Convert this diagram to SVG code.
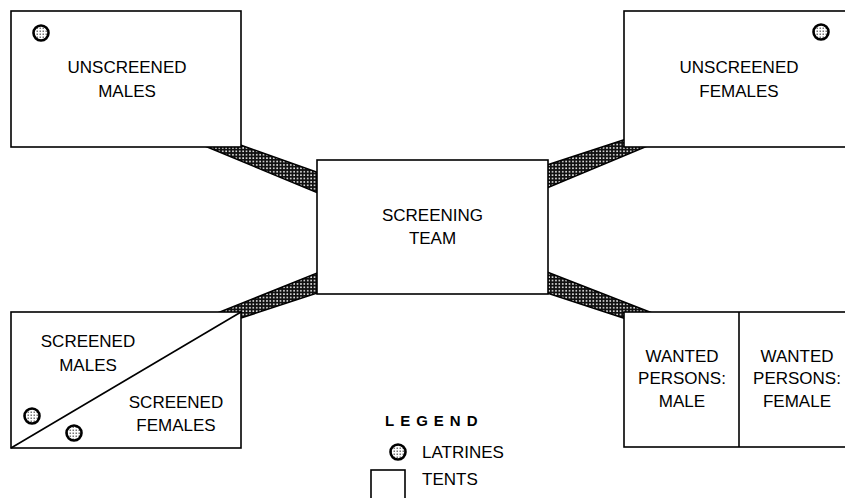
<svg xmlns="http://www.w3.org/2000/svg" width="845" height="498" viewBox="0 0 845 498">
<defs>
<pattern id="hatch" width="3.4" height="3.4" patternUnits="userSpaceOnUse">
<rect width="3.4" height="3.4" fill="#111"/>
<rect x="1" y="1" width="1.5" height="1.5" fill="#fff"/>
</pattern>
<pattern id="stip" width="3" height="3" patternUnits="userSpaceOnUse">
<rect width="3" height="3" fill="#fff"/>
<rect x="0.5" y="0.5" width="1.5" height="1.5" fill="#777"/>
</pattern>
<style>
.box{fill:#fff;stroke:#000;stroke-width:1.6}
.band{fill:url(#hatch);stroke:#000;stroke-width:1.5}
.lat{fill:url(#stip);stroke:#000;stroke-width:2.6}
.t{font-family:"Liberation Sans",Arial,sans-serif;font-size:17px;fill:#000;text-anchor:middle}
.l{font-family:"Liberation Sans",Arial,sans-serif;font-size:17px;fill:#000}
</style>
</defs>
<rect width="845" height="498" fill="#fff"/>
<g id="connectors">
<polygon class="band" points="200,144 235,143 325,175 325,196"/>
<polygon class="band" points="540,167.3 630,137.7 652,144.1 540,190.9"/>
<polygon class="band" points="213,314.8 325,269.8 325,290.4 235,320"/>
<polygon class="band" points="540,269.3 657,314.7 630,320.3 540,290.7"/>
</g>
<g id="unscreened-males">
<rect class="box" x="11" y="11" width="230" height="136"/>
<circle class="lat" cx="41" cy="33" r="7.5"/>
<text class="t" x="127" y="73">UNSCREENED</text>
<text class="t" x="127" y="97">MALES</text>
</g>
<g id="unscreened-females">
<rect class="box" x="624" y="11" width="240" height="136"/>
<circle class="lat" cx="821" cy="32" r="7.5"/>
<text class="t" x="739" y="73">UNSCREENED</text>
<text class="t" x="739" y="97">FEMALES</text>
</g>
<g id="screening-team">
<rect class="box" x="317" y="160" width="231" height="134"/>
<text class="t" x="432.5" y="221">SCREENING</text>
<text class="t" x="432.5" y="244">TEAM</text>
</g>
<g id="screened">
<rect class="box" x="11" y="312" width="230" height="136"/>
<line x1="11" y1="448" x2="241" y2="312" stroke="#000" stroke-width="1.6"/>
<circle class="lat" cx="32" cy="416" r="7.5"/>
<circle class="lat" cx="74" cy="433" r="7.5"/>
<text class="t" x="88" y="347">SCREENED</text>
<text class="t" x="88" y="371">MALES</text>
<text class="t" x="176" y="408">SCREENED</text>
<text class="t" x="176" y="431">FEMALES</text>
</g>
<g id="wanted-persons">
<rect class="box" x="624" y="312" width="240" height="135"/>
<line x1="739" y1="312" x2="739" y2="447" stroke="#000" stroke-width="1.6"/>
<text class="t" x="682" y="362">WANTED</text>
<text class="t" x="682" y="384">PERSONS:</text>
<text class="t" x="682" y="407">MALE</text>
<text class="t" x="797" y="362">WANTED</text>
<text class="t" x="797" y="384">PERSONS:</text>
<text class="t" x="797" y="407">FEMALE</text>
</g>
<g id="legend">
<text x="385" y="426" style="font-family:'Liberation Sans',Arial,sans-serif;font-size:15px;font-weight:bold;letter-spacing:6px">LEGEND</text>
<circle class="lat" cx="398" cy="452" r="7.5"/>
<text class="l" x="422" y="458">LATRINES</text>
<rect class="box" x="371" y="470" width="34" height="40"/>
<text class="l" x="422" y="485">TENTS</text>
</g>
</svg>
